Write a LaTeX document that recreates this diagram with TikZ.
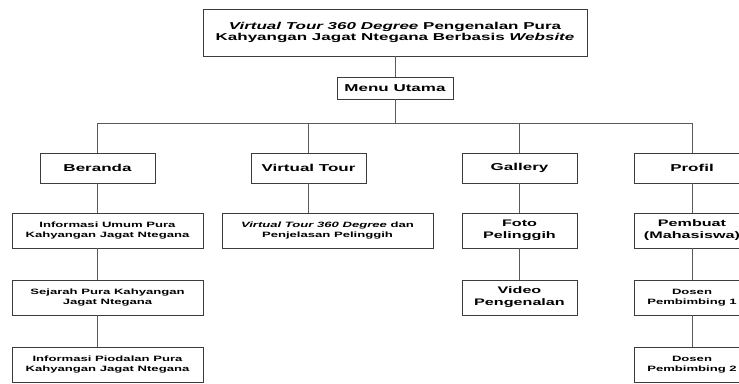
\documentclass[tikz,border=0pt]{standalone}
\usepackage{fontspec}
\setmainfont{Liberation Sans}[FakeStretch=1.7]
\usetikzlibrary{positioning}
\definecolor{garis}{HTML}{5A5A5A}
\definecolor{tepi}{HTML}{3C3C3C}

\begin{document}
\begin{tikzpicture}[x=1pt, y=-1pt, line width=0.8pt,
    kotak/.style={draw=tepi, fill=white, align=center, inner sep=0pt,
                  minimum width=115pt, minimum height=30pt,
                  font=\bfseries\fontsize{10}{11.7}\selectfont},
    sedang/.style={kotak, minimum height=35pt,
                   font=\bfseries\fontsize{9.5}{12}\selectfont},
    kecil/.style={kotak, minimum height=35pt,
                  font=\bfseries\fontsize{7.7}{10}\selectfont},
    hubung/.style={draw=garis}]
  \clip (0,0) rectangle (739,383);
  % judul dan menu utama
  \node[kotak, minimum width=384pt, minimum height=47pt] (judul) at (395,32.5)
    {\textit{Virtual Tour 360 Degree} Pengenalan Pura\\
     Kahyangan Jagat Ntegana Berbasis \textit{Website}};
  \node[kotak, minimum width=116pt, minimum height=22pt] (menu) at (395,88) {Menu Utama};
  % menu tingkat pertama
  \node[kotak] (beranda) at (97.5,168) {Beranda};
  \node[kotak] (vtour)   at (308.5,168) {Virtual Tour};
  \node[kotak] (gallery) at (519.5,168) {Gallery};
  \node[kotak] (profil)  at (692,168) {Profil};
  % isi tiap menu
  \node[kecil, minimum width=191pt] (umum) at (107.5,230.5)
    {Informasi Umum Pura\\Kahyangan Jagat Ntegana};
  \node[kecil, minimum width=191pt] (sejarah) at (107.5,297.5)
    {Sejarah Pura Kahyangan\\Jagat Ntegana};
  \node[kecil, minimum width=191pt] (piodalan) at (107.5,364.5)
    {Informasi Piodalan Pura\\Kahyangan Jagat Ntegana};
  \node[kecil, minimum width=211pt] (tur360) at (327.5,230.5)
    {\textit{Virtual Tour 360 Degree} dan\\Penjelasan Pelinggih};
  \node[sedang] (foto)  at (519.5,230.5) {Foto\\Pelinggih};
  \node[sedang] (video) at (519.5,297.5) {Video\\Pengenalan};
  \node[sedang, minimum width=116pt] (pembuat) at (692,230.5) {Pembuat\\(Mahasiswa)};
  \node[kecil, minimum width=116pt] (dosen1) at (692,297.5) {Dosen\\Pembimbing 1};
  \node[kecil, minimum width=116pt] (dosen2) at (692,364.5) {Dosen\\Pembimbing 2};
  % garis penghubung
  \draw[hubung] (judul) -- (menu);
  \foreach \anak in {beranda,vtour,gallery,profil}
    \draw[hubung] (menu.south) -- ++(0,24) -| (\anak.north);
  \draw[hubung] (beranda.south) -- (beranda.south |- umum.north);
  \draw[hubung] (umum.south -| beranda) -- (sejarah.north -| beranda);
  \draw[hubung] (sejarah.south -| beranda) -- (piodalan.north -| beranda);
  \draw[hubung] (vtour.south) -- (vtour.south |- tur360.north);
  \draw[hubung] (gallery) -- (foto);
  \draw[hubung] (foto) -- (video);
  \draw[hubung] (profil) -- (pembuat);
  \draw[hubung] (pembuat) -- (dosen1);
  \draw[hubung] (dosen1) -- (dosen2);
\end{tikzpicture}
\end{document}
